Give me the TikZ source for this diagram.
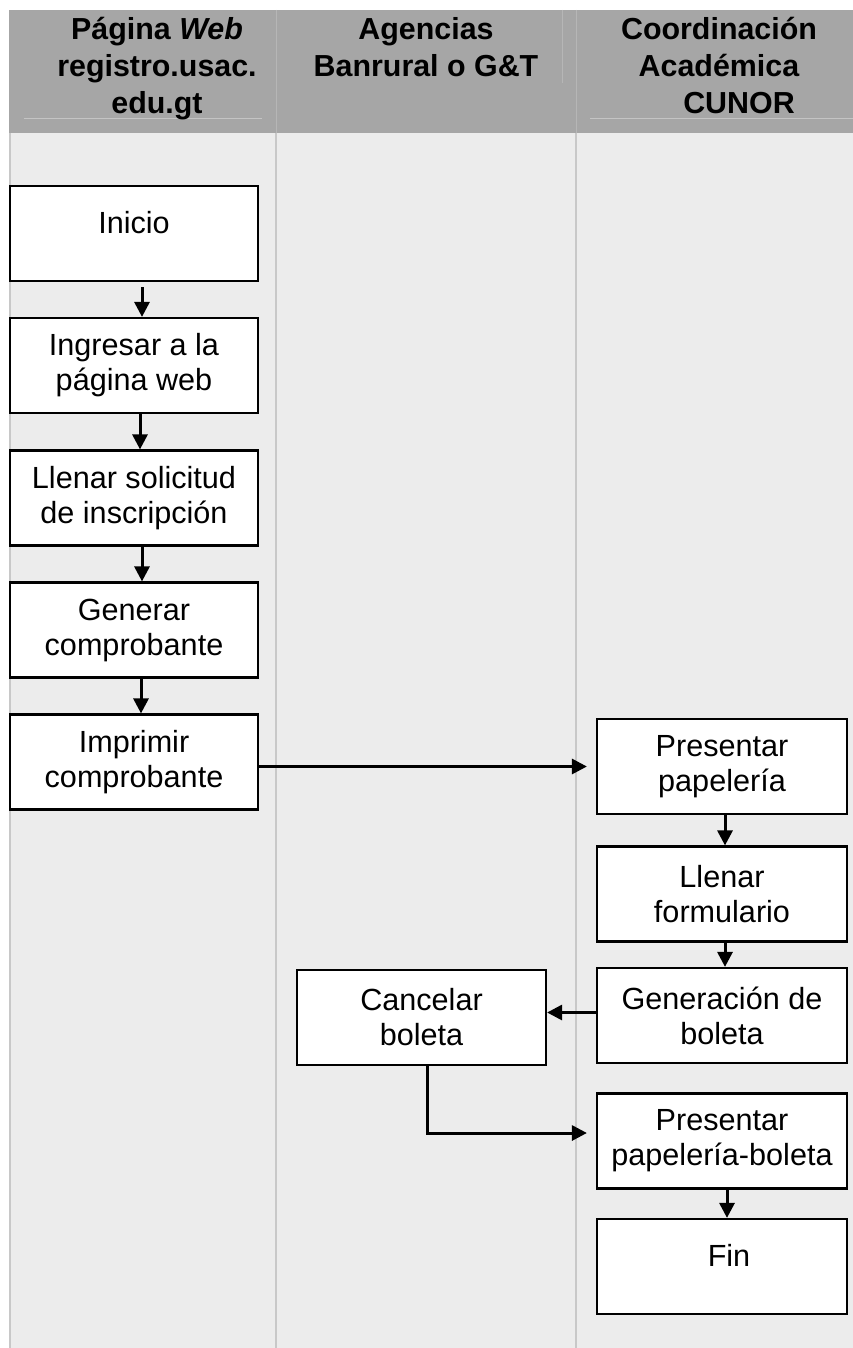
\documentclass[tikz,border=0pt]{standalone}
\usepackage{fontspec}
\setmainfont{Liberation Sans}
\usetikzlibrary{arrows.meta}
\definecolor{headgray}{HTML}{A6A6A6}
\definecolor{lanegray}{HTML}{ECECEC}
\definecolor{rulegray}{HTML}{C8C8C8}
\definecolor{headrule}{HTML}{B6B6B6}
\definecolor{headline}{HTML}{C4C4C4}

\begin{document}
\begin{tikzpicture}[x=1pt,y=-1pt,
  stepbox/.style={draw=black, line width=2.2pt, fill=white, minimum width=248pt,
    minimum height=95pt, inner sep=0pt, align=center,
    font=\fontsize{30.6}{35}\selectfont},
  onebox/.style={stepbox, text height=11pt, text depth=11pt},
  flow/.style={line width=3pt, -{Triangle[length=15pt,width=15pt]}},
  headtext/.style={anchor=base, inner sep=0pt,
    font=\bfseries\fontsize{30.4}{37}\selectfont},
  lanerule/.style={rulegray, line width=2pt},
  headsep/.style={headrule, line width=1pt},
]
\useasboundingbox (0,0) rectangle (853,1348);
\fill[white] (0,0) rectangle (853,1348);

% header band and lane background
\fill[headgray] (9,10) rectangle (853,133);
\fill[lanegray] (9,133) rectangle (853,1348);

% thin rules inside the header
\draw[headsep] (276,10) -- (276,133);
\draw[headsep] (576,10) -- (576,133);
\draw[headsep] (562,10) -- (562,83);
\draw[headline, line width=1pt] (24,119) -- (262,119);
\draw[headline, line width=1pt] (590,119) -- (853,119);

% lane separators
\draw[lanerule] (10,133) -- (10,1348);
\draw[lanerule] (276,133) -- (276,1348);
\draw[lanerule] (576,133) -- (576,1348);

% lane titles
\node[headtext] (hweb) at (157,40)
  {\begin{tabular}[t]{@{}c@{}}Página \textit{Web}\\registro.usac.\\edu.gt\end{tabular}};
\node[headtext] (hbank) at (426,40)
  {\begin{tabular}[t]{@{}c@{}}Agencias\\Banrural o G\&T\end{tabular}};
\node[headtext] (hcoord) at (719,40)
  {\begin{tabular}[t]{@{}c@{}}Coordinación\\Académica\\\hspace*{40pt}CUNOR\end{tabular}};

% web page lane
\node[onebox] (inicio) at (134,233.5) {Inicio};
\node[stepbox] (ingresar) at (134,365.5) {Ingresar a la\\página web};
\node[stepbox] (solicitud) at (134,498) {Llenar solicitud\\de inscripción};
\node[stepbox] (generar) at (134,630) {Generar\\comprobante};
\node[stepbox] (imprimir) at (134,762) {Imprimir\\comprobante};

% bank lane
\node[stepbox, minimum width=249pt] (cancelar) at (421.5,1017.5) {Cancelar\\boleta};

% coordination lane
\node[stepbox, minimum width=250pt] (presentar) at (722,766.5) {Presentar\\papelería};
\node[stepbox, minimum width=250pt] (formulario) at (722,894) {Llenar\\formulario};
\node[stepbox, minimum width=250pt] (generacion) at (722,1015.5) {Generación de\\boleta};
\node[stepbox, minimum width=250pt] (presboleta) at (722,1141) {Presentar\\papelería-boleta};
\node[onebox, minimum width=250pt] (fin) at (722,1266.5) {\hspace*{14pt}Fin};

% connectors
\draw[flow, shorten <=5pt] ([xshift=8pt]inicio.south) -- ([xshift=8pt]inicio.south |- ingresar.north);
\draw[flow] ([xshift=6pt]ingresar.south) -- ([xshift=6pt]ingresar.south |- solicitud.north);
\draw[flow] ([xshift=8pt]solicitud.south) -- ([xshift=8pt]solicitud.south |- generar.north);
\draw[flow] ([xshift=7pt]generar.south) -- ([xshift=7pt]generar.south |- imprimir.north);
\draw[flow, shorten >=9pt] (imprimir.east |- presentar.west) -- (presentar.west);
\draw[flow] ([xshift=3pt]presentar.south) -- ([xshift=3pt]presentar.south |- formulario.north);
\draw[flow] ([xshift=3pt]formulario.south) -- ([xshift=3pt]formulario.south |- generacion.north);
\draw[flow] ([yshift=3pt]generacion.west) -- ([yshift=3pt]generacion.west -| cancelar.east);
\draw[flow, shorten >=9pt] ([xshift=5.5pt]cancelar.south) |- ([yshift=8pt]presboleta.west);
\draw[flow] ([xshift=5pt]presboleta.south) -- ([xshift=5pt]presboleta.south |- fin.north);
\end{tikzpicture}
\end{document}
